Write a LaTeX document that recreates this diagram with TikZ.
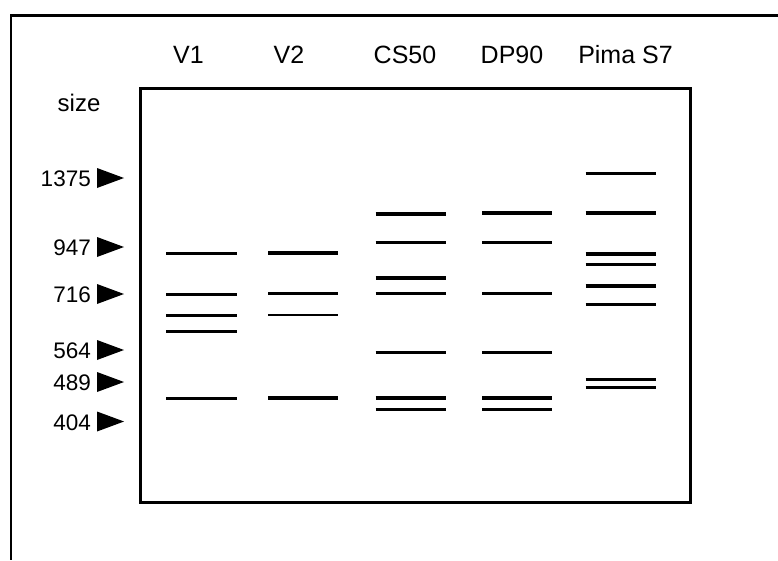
\documentclass[tikz,border=0pt]{standalone}
\usepackage{fontspec}
\setmainfont{Liberation Sans}
\begin{document}
\begin{tikzpicture}[x=1pt,y=-1pt,
  lane/.style={anchor=base,inner sep=0pt,font=\fontsize{25}{28}\selectfont},
  mlabel/.style={anchor=base east,inner sep=0pt,font=\fontsize{22.5}{26}\selectfont},
  band/.style={line width=#1,line cap=butt},
  frame/.style={line width=2.3pt},
  gel/.style={line width=3pt}]
\useasboundingbox (0,0) rectangle (778,560);
% outer frame (cropped)
\draw[frame] (778,15.5) -- (11,15.5) -- (11,560);
% gel box
\draw[gel] (140,88.5) rectangle (690,502.5);
% lane labels
\node[lane] (l1) at (188.5,63) {V1};
\node[lane] (l2) at (289,63) {V2};
\node[lane] (l3) at (405,63) {CS50};
\node[lane] (l4) at (512,63) {DP90};
\node[lane] (l5) at (625.5,63) {Pima S7};
% size label
\node[anchor=base west,inner sep=0pt,font=\fontsize{24}{28}\selectfont] (sz) at (57.5,111) {size};
% markers
\foreach \n/\lab/\y in {a/1375/178, b/947/247, c/716/294, d/564/350, e/489/382, f/404/421.5}{
  \node[mlabel] (m\n) at (91,\y+8.5) {\lab};
  \fill (97,\y-10) -- (124,\y) -- (97,\y+10) -- cycle;
}
% V1
\foreach \y/\w in {253.5/2.2pt, 294.3/3.3pt, 315.7/2.8pt, 331.7/3.5pt, 398.3/2.8pt}
  \draw[band=\w] (166,\y) -- (237,\y);
% V2
\foreach \y/\w in {253.3/4pt, 293.7/2.8pt, 315/2.8pt, 398.3/4pt}
  \draw[band=\w] (268,\y) -- (338,\y);
% CS50
\foreach \y/\w in {214/4pt, 242.7/2.8pt, 278/4pt, 293.7/2.8pt, 352.7/2.8pt, 398.3/4pt, 409.3/2.8pt}
  \draw[band=\w] (375.5,\y) -- (445.5,\y);
% DP90
\foreach \y/\w in {213.3/4pt, 242.7/2.8pt, 293.7/2.8pt, 352.7/2.8pt, 398.3/4pt, 409.3/2.8pt}
  \draw[band=\w] (482,\y) -- (552,\y);
% Pima S7
\foreach \y/\w in {173.7/2.8pt, 213.3/4pt, 253.7/4pt, 264.3/2.8pt, 285.7/4pt, 304.3/2.8pt, 379.7/2.8pt, 387.3/2.8pt}
  \draw[band=\w] (585.5,\y) -- (656,\y);
\end{tikzpicture}
\end{document}
